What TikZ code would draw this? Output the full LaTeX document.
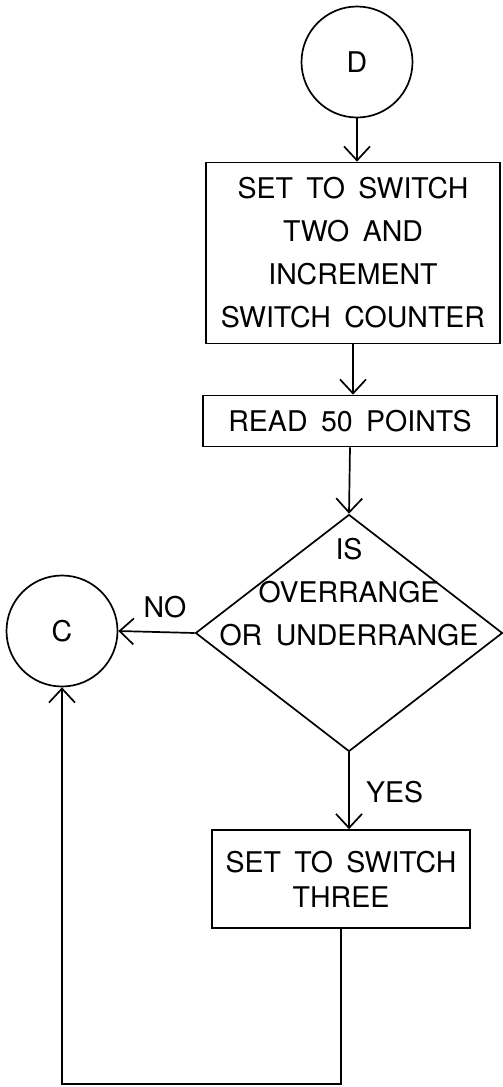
\documentclass[tikz,border=0pt]{standalone}
\usepackage{fontspec}
\setmainfont[WordSpace=1.7]{TeX Gyre Heros}
\usetikzlibrary{shapes.geometric,arrows.meta}

\begin{document}
\begin{tikzpicture}[x=1pt,y=-1pt,line width=1.7pt,
   font=\fontsize{28.5}{43}\selectfont,
   conn/.style={draw,circle,minimum size=111pt,inner sep=0pt},
   stepbox/.style={draw,rectangle,align=center,inner sep=0pt,minimum width=294pt},
   decision/.style={draw,diamond,minimum width=307pt,minimum height=237pt,inner sep=0pt},
   flow/.style={-{Straight Barb[length=14pt,width=26pt,line width=1.7pt]}}]
   \useasboundingbox (0,0) rectangle (503,1087);
   % connectors and boxes
   \node[conn] (d) at (357,62) {D};
   \node[stepbox,minimum height=181pt] (sw2) at (353,253)
      {SET TO SWITCH\\TWO AND\\INCREMENT\\SWITCH COUNTER};
   \node[stepbox,minimum height=51pt] (read) at (350,421) {READ 50 POINTS};
   \node[decision] (dec) at (349,633) {};
   \node[align=center] (q) at (349,592) {IS\\OVERRANGE\\OR UNDERRANGE};
   \node[conn] (c) at (62,631) {C};
   \node[stepbox,minimum width=258pt,minimum height=98pt,
      font=\fontsize{28.5}{35}\selectfont] (sw3) at (341,879) {SET TO SWITCH\\THREE};
   % flow lines
   \draw[flow] (d) -- (d |- sw2.north);
   \draw[flow] (sw2.south) -- (sw2.south |- read.north);
   \draw[flow] (read.south) -- (dec.north);
   \draw[flow] (dec.south) -- (dec.south |- sw3.north);
   \draw[flow] (dec.west) -- (c.east);
   \draw[flow] (sw3.south) -- ++(0,155) -| (c.south);
   \node (no) at (165,607) {NO};
   \node[anchor=west] (yes) at (362,792) {YES};
\end{tikzpicture}
\end{document}
